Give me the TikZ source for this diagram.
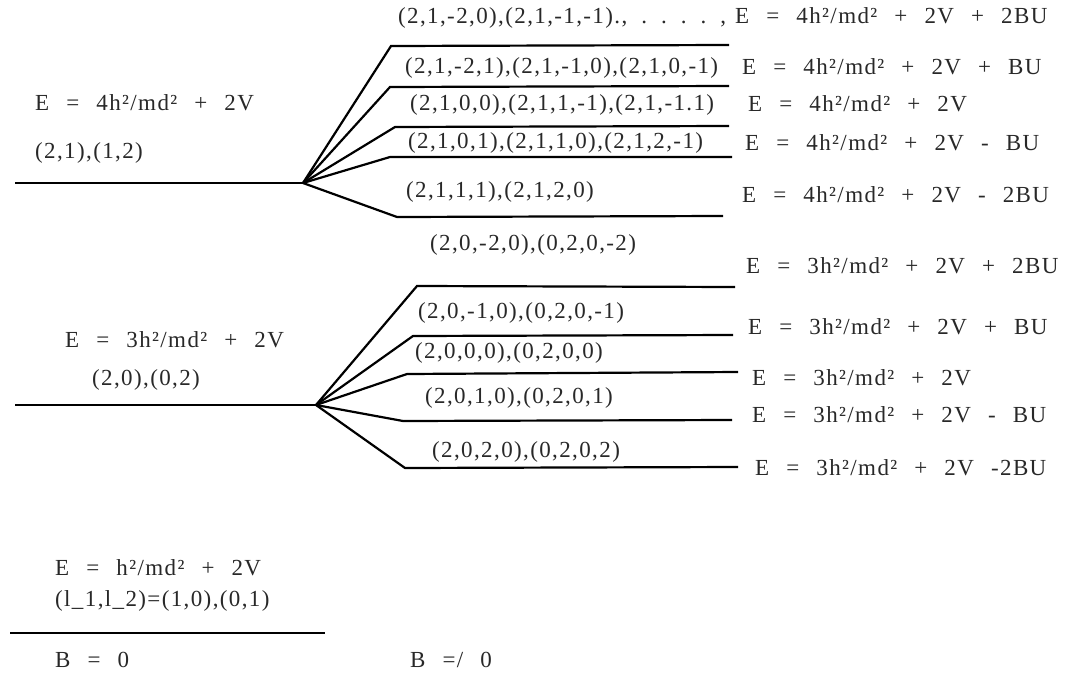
\documentclass[tikz,border=0pt]{standalone}
\usepackage{fontspec}
\setmainfont{Liberation Serif}[LetterSpace=6, WordSpace=2.4]
\usetikzlibrary{positioning}
\definecolor{inkgray}{RGB}{40,40,40}

\begin{document}
\begin{tikzpicture}[
    x=1pt, y=-1pt,
    level/.style={line width=1.6pt},
    split/.style={line width=2.2pt, line join=miter},
    lbl/.style={anchor=west, inner sep=0pt, text=inkgray, font=\fontsize{23}{27}\selectfont}
]
\useasboundingbox (0,0) rectangle (1084,672);

% level (2,1),(1,2)
\coordinate (t0) at (15,183);
\coordinate (t) at (303,183);
\coordinate (t1s) at (391,46);  \coordinate (t1e) at (729,45);
\coordinate (t2s) at (390,87);  \coordinate (t2e) at (729,86);
\coordinate (t3s) at (395,127); \coordinate (t3e) at (729,126);
\coordinate (t4s) at (390,157); \coordinate (t4e) at (732,157);
\coordinate (t5s) at (397,217); \coordinate (t5e) at (723,216);
\draw[level] (t0) -- (t);
\draw[split] (t) -- (t1s) -- (t1e);
\draw[split] (t) -- (t2s) -- (t2e);
\draw[split] (t) -- (t3s) -- (t3e);
\draw[split] (t) -- (t4s) -- (t4e);
\draw[split] (t) -- (t5s) -- (t5e);

% level (2,0),(0,2)
\coordinate (m0) at (15,405);
\coordinate (m) at (316,405);
\coordinate (m1s) at (417,286); \coordinate (m1e) at (735,287);
\coordinate (m2s) at (413,336); \coordinate (m2e) at (733,335);
\coordinate (m3s) at (407,374); \coordinate (m3e) at (738,372);
\coordinate (m4s) at (403,421); \coordinate (m4e) at (732,420);
\coordinate (m5s) at (405,468); \coordinate (m5e) at (738,467);
\draw[level] (m0) -- (m);
\draw[split] (m) -- (m1s) -- (m1e);
\draw[split] (m) -- (m2s) -- (m2e);
\draw[split] (m) -- (m3s) -- (m3e);
\draw[split] (m) -- (m4s) -- (m4e);
\draw[split] (m) -- (m5s) -- (m5e);

% level (1,0),(0,1)
\coordinate (b0) at (10,633);
\coordinate (b) at (325,633);
\draw[level] (b0) -- (b);

% left labels
\node[lbl] (tE) at (35,103) {E = 4h²/md² + 2V};
\node[lbl] (tL) at (35,153) {(2,1),(1,2)};
\node[lbl] (mE) at (65,340) {E = 3h²/md² + 2V};
\node[lbl] (mL) at (92,380) {(2,0),(0,2)};
\node[lbl] (bE) at (55,568) {E = h²/md² + 2V};
\node[lbl] (bL) at (55,601) {(l\_1,l\_2)=(1,0),(0,1)};
\node[lbl] (B0) at (55,660) {B = 0};
\node[lbl] (B1) at (410,660) {B =/ 0};

% states, upper fan
\node[lbl] (t1) at (398,18) {(2,1,-2,0),(2,1,-1,-1).,\hspace{14pt}.\hspace{14pt}.\hspace{14pt}.\hspace{14pt}.\hspace{14pt},};
\node[lbl] (t2) at (405,68) {(2,1,-2,1),(2,1,-1,0),(2,1,0,-1)};
\node[lbl] (t3) at (410,105) {(2,1,0,0),(2,1,1,-1),(2,1,-1.1)};
\node[lbl] (t4) at (408,143) {(2,1,0,1),(2,1,1,0),(2,1,2,-1)};
\node[lbl] (t5) at (406,192) {(2,1,1,1),(2,1,2,0)};

% energies, upper fan
\node[lbl] (tE1) at (735,16) {E = 4h²/md² + 2V + 2BU};
\node[lbl] (tE2) at (742,67) {E = 4h²/md² + 2V + BU};
\node[lbl] (tE3) at (748,104) {E = 4h²/md² + 2V};
\node[lbl] (tE4) at (745,143) {E = 4h²/md² + 2V - BU};
\node[lbl] (tE5) at (742,195) {E = 4h²/md² + 2V - 2BU};

% states, lower fan
\node[lbl] (m1) at (430,245) {(2,0,-2,0),(0,2,0,-2)};
\node[lbl] (m2) at (418,313) {(2,0,-1,0),(0,2,0,-1)};
\node[lbl] (m3) at (415,353) {(2,0,0,0),(0,2,0,0)};
\node[lbl] (m4) at (425,398) {(2,0,1,0),(0,2,0,1)};
\node[lbl] (m5) at (432,452) {(2,0,2,0),(0,2,0,2)};

% energies, lower fan
\node[lbl] (mE1) at (746,266) {E = 3h²/md² + 2V + 2BU};
\node[lbl] (mE2) at (748,327) {E = 3h²/md² + 2V + BU};
\node[lbl] (mE3) at (752,378) {E = 3h²/md² + 2V};
\node[lbl] (mE4) at (752,415) {E = 3h²/md² + 2V - BU};
\node[lbl] (mE5) at (755,468) {E = 3h²/md² + 2V -2BU};
\end{tikzpicture}
\end{document}
